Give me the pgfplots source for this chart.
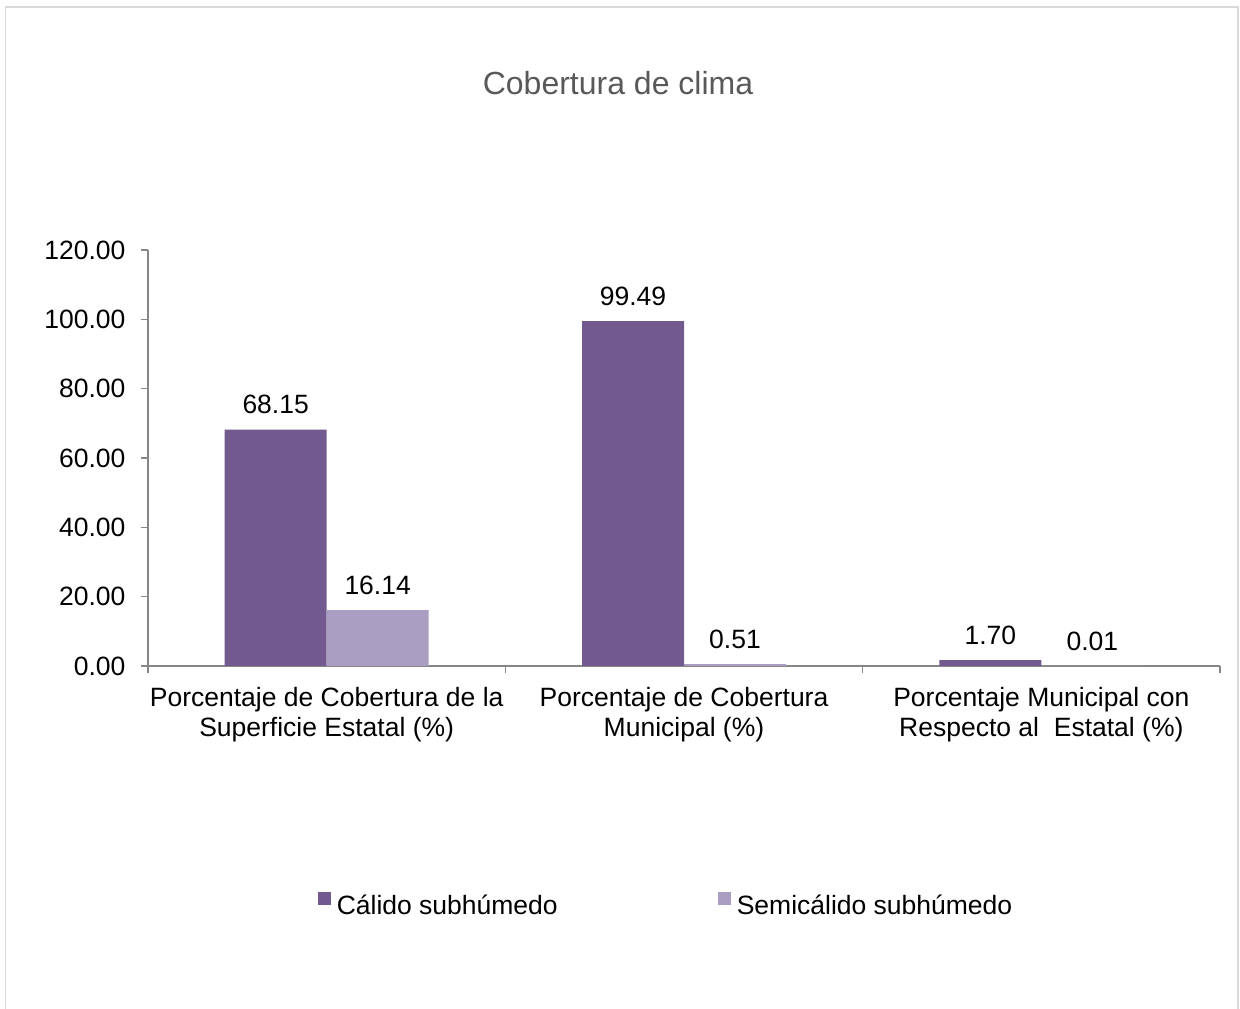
\documentclass[border=0pt]{standalone}
\usepackage{pgfplots}
\pgfplotsset{compat=1.18}
\usepackage{fontspec}
\setmainfont{Liberation Sans}
\definecolor{darkp}{RGB}{114,90,142}
\definecolor{lightp}{RGB}{170,157,194}
\definecolor{axgray}{RGB}{134,134,134}
\definecolor{titlegray}{RGB}{89,89,89}
\definecolor{framegray}{RGB}{217,217,217}
\newcommand{\lbl}{\fontsize{26.5}{30}\selectfont}
\begin{document}
\begin{tikzpicture}[x=1pt,y=1pt]
\useasboundingbox (0,0) rectangle (1240,1009);
\draw[framegray, line width=1.2pt] (5.5,-2) -- (5.5,1002) -- (1238,1002) -- (1238,-2);
\node[text=titlegray, font=\fontsize{32}{38}\selectfont] at (618,926) {Cobertura de clima};
\begin{axis}[
  at={(148pt,343pt)}, anchor=south west,
  scale only axis, width=1072pt, height=416pt,
  xmin=-0.5, xmax=2.5, ymin=0, ymax=120,
  ybar=0pt, bar width=102pt,
  axis lines*=left,
  axis line style={axgray, line width=1.2pt},
  tick style={axgray, line width=1.2pt},
  major tick length=7pt, tick align=outside,
  xtick={-0.5,0.5,1.5,2.5}, xticklabels={},
  extra x ticks={0,1,2},
  extra x tick labels={{Porcentaje de Cobertura de la\\Superficie Estatal (\%)},{Porcentaje de Cobertura\\Municipal (\%)},{Porcentaje Municipal con\\Respecto al\ \ Estatal (\%)}},
  extra x tick style={major tick length=0pt, xticklabel style={yshift=-18pt}},
  ytick={0,20,...,120},
  /pgf/number format/.cd, fixed, fixed zerofill, precision=2, 1000 sep={}, assume math mode=true, /pgfplots/.cd,
  tick label style={font=\lbl, text=black},
  xticklabel style={align=center},
  yticklabel style={xshift=-12pt},
  nodes near coords,
  every node near coord/.append style={font=\lbl, text=black, inner sep=0pt, anchor=south, yshift=15.5pt},
  legend columns=2,
  legend style={draw=none, fill=none, at={(0.4823,-0.572)}, anchor=center, font=\lbl,
    nodes={inner sep=0pt},
    column sep=6pt,
    /tikz/every even column/.append style={column sep=160pt}},
  legend image code/.code={\fill[#1] (0pt,0pt) rectangle (13pt,13pt);},
]
\addplot[fill=darkp, draw=none] coordinates {(0,68.15) (1,99.49) (2,1.70)};
\addplot[fill=lightp, draw=none] coordinates {(0,16.14) (1,0.51) (2,0.01)};
\legend{Cálido subhúmedo, Semicálido subhúmedo}
\end{axis}
\end{tikzpicture}
\end{document}
